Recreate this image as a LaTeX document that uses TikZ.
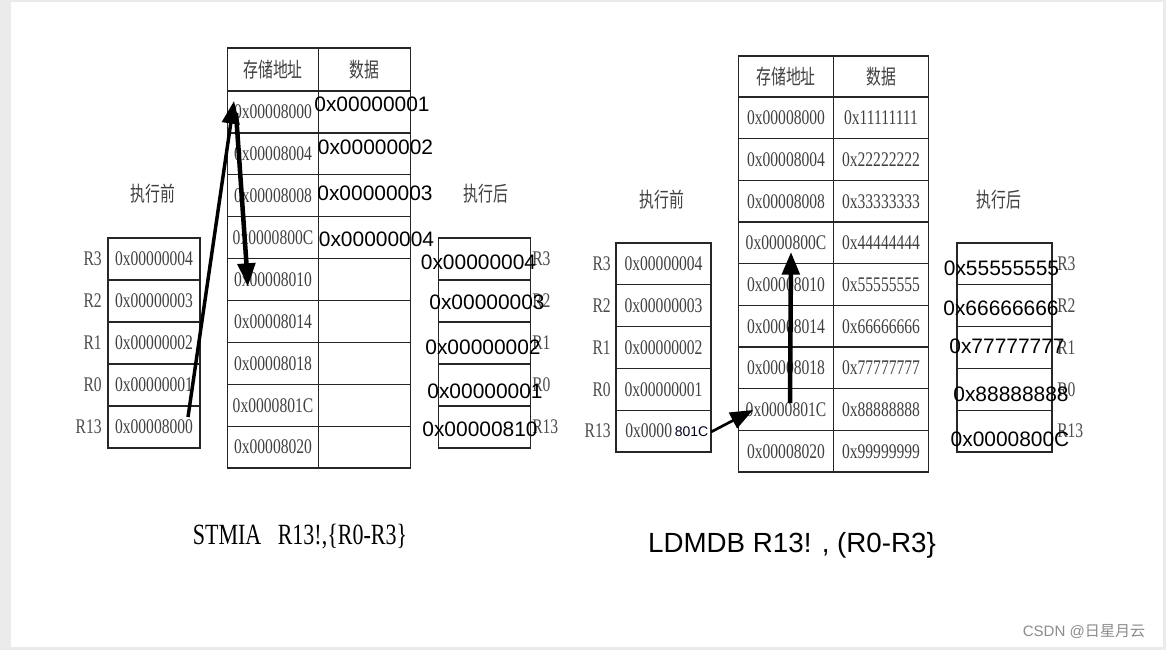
\documentclass[tikz,border=0pt]{standalone}
\usepackage{fontspec}
\setmainfont{Liberation Serif}
\newfontfamily\narrow[FakeStretch=0.75]{Liberation Serif}
\newfontfamily\cjk[FakeStretch=0.72]{Noto Sans CJK SC}
\newfontfamily\cjkw{Noto Sans CJK SC}
\newfontfamily\sans{Liberation Sans}
\usetikzlibrary{arrows.meta}

\newcommand{\cellfont}{\narrow\fontsize{15.6}{16}\selectfont}
\newcommand{\headfont}{\cjk\fontsize{15.5}{16}\selectfont}
\newcommand{\bigfont}{\sans\fontsize{15.7}{16}\selectfont}

\tikzset{
  box/.style={draw=black!85, line width=1pt, inner sep=0pt, text=black!75, font=\cellfont},
  lmem/.style={box, minimum width=91.5*0.75pt, minimum height=41.9*0.75pt},
  rmem/.style={box, minimum width=95*0.75pt, minimum height=41.67*0.75pt},
  lhead/.style={lmem, minimum height=43*0.75pt, font=\headfont},
  rhead/.style={rmem, minimum height=41*0.75pt, font=\headfont},
  lreg/.style={box, minimum width=92*0.75pt, minimum height=42*0.75pt},
  rreg/.style={box, minimum width=95*0.75pt, minimum height=41.8*0.75pt},
  regname/.style={inner sep=0pt, text=black!70, font=\cellfont},
  title/.style={inner sep=0pt, text=black!75, font=\headfont},
  over/.style={inner sep=0pt, text=black, font=\bigfont},
  bigarrow/.style={line width=3.4pt, -{Triangle[length=17pt,width=13pt]}},
}

\begin{document}
\begin{tikzpicture}[x=0.75pt,y=-0.75pt]
\useasboundingbox (0,0) rectangle (1166,650);

%page
\fill[black!8] (0,0) rectangle (1166,650);
\fill[white] (11,2) rectangle (1163,647);

%%%%%%%% STMIA (left)
%memory table
\node[lhead] (lh1) at (273,69.5) {存储地址};
\node[lhead] (lh2) at (364.5,69.5) {数据};
\node[lmem] (la1) at (273,111.95) {0x00008000};
\node[lmem] (la2) at (273,153.85) {0x00008004};
\node[lmem] (la3) at (273,195.75) {0x00008008};
\node[lmem] (la4) at (273,237.65) {0x0000800C};
\node[lmem] (la5) at (273,279.55) {0x00008010};
\node[lmem] (la6) at (273,321.45) {0x00008014};
\node[lmem] (la7) at (273,363.35) {0x00008018};
\node[lmem] (la8) at (273,405.25) {0x0000801C};
\node[lmem] (la9) at (273,447.15) {0x00008020};
\node[lmem] (ld1) at (364.5,111.95) {};
\node[lmem] (ld2) at (364.5,153.85) {};
\node[lmem] (ld3) at (364.5,195.75) {};
\node[lmem] (ld4) at (364.5,237.65) {};
\node[lmem] (ld5) at (364.5,279.55) {};
\node[lmem] (ld6) at (364.5,321.45) {};
\node[lmem] (ld7) at (364.5,363.35) {};
\node[lmem] (ld8) at (364.5,405.25) {};
\node[lmem] (ld9) at (364.5,447.15) {};
%stored data
\node[over] (lo1) at (372,104) {0x00000001};
\node[over] (lo2) at (375.5,147.5) {0x00000002};
\node[over] (lo3) at (375,193) {0x00000003};
\node[over] (lo4) at (376.5,239) {0x00000004};

%registers before
\node[title] (lt1) at (153,194) {执行前};
\node[lreg] (lb3) at (154,259) {0x00000004};
\node[lreg] (lb2) at (154,301) {0x00000003};
\node[lreg] (lb1) at (154,343) {0x00000002};
\node[lreg] (lb0) at (154,385) {0x00000001};
\node[lreg] (lb13) at (154,427) {0x00008000};
\node[regname, anchor=east] (lbn3) at (102,259) {R3};
\node[regname, anchor=east] (lbn2) at (102,301) {R2};
\node[regname, anchor=east] (lbn1) at (102,343) {R1};
\node[regname, anchor=east] (lbn0) at (102,385) {R0};
\node[regname, anchor=east] (lbn13) at (102,427) {R13};

%registers after
\node[title] (lt2) at (486,194) {执行后};
\node[lreg] (lc3) at (484.5,259) {};
\node[lreg] (lc2) at (484.5,301) {};
\node[lreg] (lc1) at (484.5,343) {};
\node[lreg] (lc0) at (484.5,385) {};
\node[lreg] (lc13) at (484.5,427) {};
\node[regname, anchor=west] (lcn3) at (532,259) {R3};
\node[regname, anchor=west] (lcn2) at (532,301) {R2};
\node[regname, anchor=west] (lcn1) at (532,343) {R1};
\node[regname, anchor=west] (lcn0) at (532,385) {R0};
\node[regname, anchor=west] (lcn13) at (532,427) {R13};
\node[over] (lv3) at (478.5,262) {0x00000004};
\node[over] (lv2) at (487,302.5) {0x00000003};
\node[over] (lv1) at (483,347.5) {0x00000002};
\node[over] (lv0) at (485,391) {0x00000001};
\node[over] (lv13) at (480,429) {0x00000810};

%arrows
\coordinate (lp0) at (188,417);
\coordinate (lp1) at (234,101);
\coordinate (lp2) at (236,113);
\coordinate (lp3) at (248,286);
\draw[bigarrow, line width=2.6pt] (lp0) -- (lp1);
\draw[bigarrow] (lp2) -- (lp3);

\node[inner sep=0pt, text=black, font=\narrow\fontsize{22}{24}\selectfont] (lcap) at (300,537) {STMIA\ \ \ R13!,\{R0-R3\}};

%%%%%%%% LDMDB (right)
%memory table
\node[rhead] (rh1) at (786,76.5) {存储地址};
\node[rhead] (rh2) at (881,76.5) {数据};
\node[rmem] (ra1) at (786,117.8) {0x00008000};
\node[rmem] (ra2) at (786,159.5) {0x00008004};
\node[rmem] (ra3) at (786,201.2) {0x00008008};
\node[rmem] (ra4) at (786,242.8) {0x0000800C};
\node[rmem] (ra5) at (786,284.5) {0x00008010};
\node[rmem] (ra6) at (786,326.2) {0x00008014};
\node[rmem] (ra7) at (786,367.8) {0x00008018};
\node[rmem] (ra8) at (786,409.5) {0x0000801C};
\node[rmem] (ra9) at (786,451.2) {0x00008020};
\node[rmem] (rd1) at (881,117.8) {0x11111111};
\node[rmem] (rd2) at (881,159.5) {0x22222222};
\node[rmem] (rd3) at (881,201.2) {0x33333333};
\node[rmem] (rd4) at (881,242.8) {0x44444444};
\node[rmem] (rd5) at (881,284.5) {0x55555555};
\node[rmem] (rd6) at (881,326.2) {0x66666666};
\node[rmem] (rd7) at (881,367.8) {0x77777777};
\node[rmem] (rd8) at (881,409.5) {0x88888888};
\node[rmem] (rd9) at (881,451.2) {0x99999999};

%registers before
\node[title] (rt1) at (662,200) {执行前};
\node[rreg] (rb3) at (663.5,263.9) {0x00000004};
\node[rreg] (rb2) at (663.5,305.7) {0x00000003};
\node[rreg] (rb1) at (663.5,347.5) {0x00000002};
\node[rreg] (rb0) at (663.5,389.3) {0x00000001};
\node[rreg] (rb13) at (663.5,431.1) {};
\node[regname, anchor=east] (rbn3) at (611,263.9) {R3};
\node[regname, anchor=east] (rbn2) at (611,305.7) {R2};
\node[regname, anchor=east] (rbn1) at (611,347.5) {R1};
\node[regname, anchor=east] (rbn0) at (611,389.3) {R0};
\node[regname, anchor=east] (rbn13) at (611,431.1) {R13};
\node[regname, text=black!75, anchor=west] (rsp1) at (625,431.1) {0x0000};
\node[inner sep=0pt, font=\sans\fontsize{10.5}{12}\selectfont, text=black!90!blue, anchor=west] (rsp2) at (674.5,431.5) {801C};

%registers after
\node[title] (rt2) at (999,200) {执行后};
\node[rreg] (rc3) at (1004.5,263.9) {};
\node[rreg] (rc2) at (1004.5,305.7) {};
\node[rreg] (rc1) at (1004.5,347.5) {};
\node[rreg] (rc0) at (1004.5,389.3) {};
\node[rreg] (rc13) at (1004.5,431.1) {};
\node[regname, anchor=west] (rcn3) at (1057,263.9) {R3};
\node[regname, anchor=west] (rcn2) at (1057,305.7) {R2};
\node[regname, anchor=west] (rcn1) at (1057,347.5) {R1};
\node[regname, anchor=west] (rcn0) at (1057,389.3) {R0};
\node[regname, anchor=west] (rcn13) at (1057,431.1) {R13};
\node[over] (rv3) at (1001.5,268) {0x55555555};
\node[over] (rv2) at (1001,308) {0x66666666};
\node[over] (rv1) at (1007,346) {0x77777777};
\node[over] (rv0) at (1011,394) {0x88888888};
\node[over] (rv13) at (1010,439) {0x0000800C};

%arrows
\coordinate (rp0) at (711,432);
\coordinate (rp1) at (753,410);
\coordinate (rp2) at (790,403);
\coordinate (rp3) at (791,252);
\draw[bigarrow, line width=2pt] (rp0) -- (rp1);
\draw[bigarrow] (rp2) -- (rp3);

\node[inner sep=0pt, text=black, font=\sans\fontsize{20.8}{24}\selectfont] (rcap) at (792,545) {LDMDB R13! , (R0-R3\}};

%watermark
\node[inner sep=0pt, text=black!45, font=\sans\fontsize{11.3}{13}\selectfont] (mark) at (1084,632) {CSDN @{\cjkw 日星月云}};

\end{tikzpicture}
\end{document}
